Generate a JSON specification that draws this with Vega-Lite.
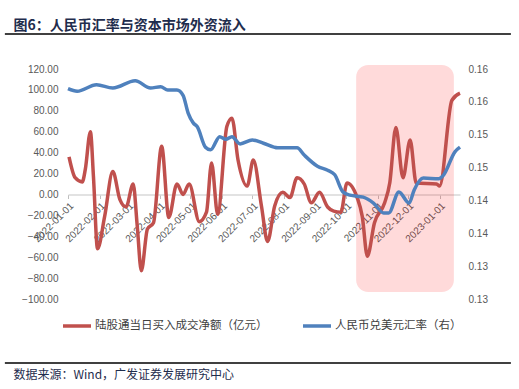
{
  "$schema": "https://vega.github.io/schema/vega-lite/v6.json",
  "width": 392,
  "height": 230,
  "autosize": {"type": "none"},
  "padding": {"left": 68, "top": 69, "right": 59, "bottom": 90},
  "background": "white",
  "config": {"view": {"stroke": null}, "font": "Liberation Sans", "axis": {"labelOverlap": false}},
  "datasets": {
    "series": [
      {"date": "2022-01-02", "series": "陆股通当日买入成交净额（亿元）", "value": 36},
      {"date": "2022-01-08", "series": "陆股通当日买入成交净额（亿元）", "value": 16},
      {"date": "2022-01-15", "series": "陆股通当日买入成交净额（亿元）", "value": 12},
      {"date": "2022-01-18", "series": "陆股通当日买入成交净额（亿元）", "value": 24},
      {"date": "2022-01-23", "series": "陆股通当日买入成交净额（亿元）", "value": 60},
      {"date": "2022-01-26", "series": "陆股通当日买入成交净额（亿元）", "value": 17},
      {"date": "2022-01-30", "series": "陆股通当日买入成交净额（亿元）", "value": -52},
      {"date": "2022-02-06", "series": "陆股通当日买入成交净额（亿元）", "value": -21},
      {"date": "2022-02-14", "series": "陆股通当日买入成交净额（亿元）", "value": 22},
      {"date": "2022-02-21", "series": "陆股通当日买入成交净额（亿元）", "value": -5},
      {"date": "2022-02-27", "series": "陆股通当日买入成交净额（亿元）", "value": -12},
      {"date": "2022-03-06", "series": "陆股通当日买入成交净额（亿元）", "value": 10},
      {"date": "2022-03-10", "series": "陆股通当日买入成交净额（亿元）", "value": -30},
      {"date": "2022-03-14", "series": "陆股通当日买入成交净额（亿元）", "value": -73},
      {"date": "2022-03-20", "series": "陆股通当日买入成交净额（亿元）", "value": -33},
      {"date": "2022-03-26", "series": "陆股通当日买入成交净额（亿元）", "value": -27},
      {"date": "2022-04-03", "series": "陆股通当日买入成交净额（亿元）", "value": 46},
      {"date": "2022-04-10", "series": "陆股通当日买入成交净额（亿元）", "value": -22},
      {"date": "2022-04-18", "series": "陆股通当日买入成交净额（亿元）", "value": 10},
      {"date": "2022-04-24", "series": "陆股通当日买入成交净额（亿元）", "value": 0},
      {"date": "2022-04-30", "series": "陆股通当日买入成交净额（亿元）", "value": 10},
      {"date": "2022-05-10", "series": "陆股通当日买入成交净额（亿元）", "value": -26},
      {"date": "2022-05-17", "series": "陆股通当日买入成交净额（亿元）", "value": -17},
      {"date": "2022-05-22", "series": "陆股通当日买入成交净额（亿元）", "value": 30},
      {"date": "2022-05-28", "series": "陆股通当日买入成交净额（亿元）", "value": -19},
      {"date": "2022-06-06", "series": "陆股通当日买入成交净额（亿元）", "value": 65},
      {"date": "2022-06-11", "series": "陆股通当日买入成交净额（亿元）", "value": 73},
      {"date": "2022-06-17", "series": "陆股通当日买入成交净额（亿元）", "value": 33},
      {"date": "2022-06-26", "series": "陆股通当日买入成交净额（亿元）", "value": 8},
      {"date": "2022-07-02", "series": "陆股通当日买入成交净额（亿元）", "value": 33},
      {"date": "2022-07-10", "series": "陆股通当日买入成交净额（亿元）", "value": -11},
      {"date": "2022-07-16", "series": "陆股通当日买入成交净额（亿元）", "value": -45},
      {"date": "2022-07-23", "series": "陆股通当日买入成交净额（亿元）", "value": -11},
      {"date": "2022-07-31", "series": "陆股通当日买入成交净额（亿元）", "value": 2},
      {"date": "2022-08-07", "series": "陆股通当日买入成交净额（亿元）", "value": -3},
      {"date": "2022-08-14", "series": "陆股通当日买入成交净额（亿元）", "value": 16},
      {"date": "2022-08-21", "series": "陆股通当日买入成交净额（亿元）", "value": 10},
      {"date": "2022-08-28", "series": "陆股通当日买入成交净额（亿元）", "value": -8},
      {"date": "2022-09-05", "series": "陆股通当日买入成交净额（亿元）", "value": 2},
      {"date": "2022-09-13", "series": "陆股通当日买入成交净额（亿元）", "value": -12},
      {"date": "2022-09-19", "series": "陆股通当日买入成交净额（亿元）", "value": -16},
      {"date": "2022-09-26", "series": "陆股通当日买入成交净额（亿元）", "value": -17},
      {"date": "2022-10-02", "series": "陆股通当日买入成交净额（亿元）", "value": 11},
      {"date": "2022-10-12", "series": "陆股通当日买入成交净额（亿元）", "value": -3},
      {"date": "2022-10-17", "series": "陆股通当日买入成交净额（亿元）", "value": -21},
      {"date": "2022-10-22", "series": "陆股通当日买入成交净额（亿元）", "value": -59},
      {"date": "2022-10-29", "series": "陆股通当日买入成交净额（亿元）", "value": -27},
      {"date": "2022-11-08", "series": "陆股通当日买入成交净额（亿元）", "value": -8},
      {"date": "2022-11-13", "series": "陆股通当日买入成交净额（亿元）", "value": 11},
      {"date": "2022-11-19", "series": "陆股通当日买入成交净额（亿元）", "value": 64},
      {"date": "2022-11-26", "series": "陆股通当日买入成交净额（亿元）", "value": 16},
      {"date": "2022-12-03", "series": "陆股通当日买入成交净额（亿元）", "value": 52},
      {"date": "2022-12-09", "series": "陆股通当日买入成交净额（亿元）", "value": 11},
      {"date": "2022-12-29", "series": "陆股通当日买入成交净额（亿元）", "value": 10},
      {"date": "2023-01-01", "series": "陆股通当日买入成交净额（亿元）", "value": 8},
      {"date": "2023-01-13", "series": "陆股通当日买入成交净额（亿元）", "value": 90},
      {"date": "2023-01-21", "series": "陆股通当日买入成交净额（亿元）", "value": 97},
      {"date": "2022-01-01", "series": "人民币兑美元汇率（右）", "value": 0.1570},
      {"date": "2022-01-10", "series": "人民币兑美元汇率（右）", "value": 0.1566},
      {"date": "2022-01-29", "series": "人民币兑美元汇率（右）", "value": 0.1576},
      {"date": "2022-02-14", "series": "人民币兑美元汇率（右）", "value": 0.1571},
      {"date": "2022-03-08", "series": "人民币兑美元汇率（右）", "value": 0.1582},
      {"date": "2022-03-23", "series": "人民币兑美元汇率（右）", "value": 0.1571},
      {"date": "2022-04-02", "series": "人民币兑美元汇率（右）", "value": 0.1573},
      {"date": "2022-04-09", "series": "人民币兑美元汇率（右）", "value": 0.1568},
      {"date": "2022-04-18", "series": "人民币兑美元汇率（右）", "value": 0.1568},
      {"date": "2022-04-24", "series": "人民币兑美元汇率（右）", "value": 0.1560},
      {"date": "2022-04-29", "series": "人民币兑美元汇率（右）", "value": 0.1533},
      {"date": "2022-05-04", "series": "人民币兑美元汇率（右）", "value": 0.1518},
      {"date": "2022-05-08", "series": "人民币兑美元汇率（右）", "value": 0.1512},
      {"date": "2022-05-16", "series": "人民币兑美元汇率（右）", "value": 0.1481},
      {"date": "2022-05-21", "series": "人民币兑美元汇率（右）", "value": 0.1477},
      {"date": "2022-05-30", "series": "人民币兑美元汇率（右）", "value": 0.1497},
      {"date": "2022-06-05", "series": "人民币兑美元汇率（右）", "value": 0.1493},
      {"date": "2022-06-11", "series": "人民币兑美元汇率（右）", "value": 0.1497},
      {"date": "2022-06-19", "series": "人民币兑美元汇率（右）", "value": 0.1486},
      {"date": "2022-07-01", "series": "人民币兑美元汇率（右）", "value": 0.1492},
      {"date": "2022-07-12", "series": "人民币兑美元汇率（右）", "value": 0.1487},
      {"date": "2022-07-26", "series": "人民币兑美元汇率（右）", "value": 0.1480},
      {"date": "2022-08-14", "series": "人民币兑美元汇率（右）", "value": 0.1480},
      {"date": "2022-08-21", "series": "人民币兑美元汇率（右）", "value": 0.1469},
      {"date": "2022-09-03", "series": "人民币兑美元汇率（右）", "value": 0.1452},
      {"date": "2022-09-13", "series": "人民币兑美元汇率（右）", "value": 0.1446},
      {"date": "2022-09-20", "series": "人民币兑美元汇率（右）", "value": 0.1439},
      {"date": "2022-09-28", "series": "人民币兑美元汇率（右）", "value": 0.1413},
      {"date": "2022-10-05", "series": "人民币兑美元汇率（右）", "value": 0.1408},
      {"date": "2022-10-18", "series": "人民币兑美元汇率（右）", "value": 0.1405},
      {"date": "2022-10-28", "series": "人民币兑美元汇率（右）", "value": 0.1396},
      {"date": "2022-11-07", "series": "人民币兑美元汇率（右）", "value": 0.1381},
      {"date": "2022-11-12", "series": "人民币兑美元汇率（右）", "value": 0.1381},
      {"date": "2022-11-22", "series": "人民币兑美元汇率（右）", "value": 0.1413},
      {"date": "2022-12-02", "series": "人民币兑美元汇率（右）", "value": 0.1396},
      {"date": "2022-12-07", "series": "人民币兑美元汇率（右）", "value": 0.1416},
      {"date": "2022-12-16", "series": "人民币兑美元汇率（右）", "value": 0.1434},
      {"date": "2022-12-31", "series": "人民币兑美元汇率（右）", "value": 0.1433},
      {"date": "2023-01-05", "series": "人民币兑美元汇率（右）", "value": 0.1439},
      {"date": "2023-01-16", "series": "人民币兑美元汇率（右）", "value": 0.1474},
      {"date": "2023-01-21", "series": "人民币兑美元汇率（右）", "value": 0.1481}
    ]
  },
  "layer": [
    {
      "layer": [
        {
          "data": {"values": [{}]},
          "mark": {"type": "rect", "cornerRadius": 12, "fill": "#ff0000", "fillOpacity": 0.145},
          "encoding": {
            "x": {"datum": {"year": 2022, "month": 10, "date": 11, "utc": true}, "type": "temporal"},
            "x2": {"datum": {"year": 2023, "month": 1, "date": 15, "utc": true}},
            "y": {"datum": 123.8, "type": "quantitative", "scale": {"domain": [-100, 120], "nice": false, "zero": false}},
            "y2": {"datum": -93.3}
          }
        },
        {
          "data": {"values": [{}]},
          "mark": {"type": "rule", "color": "#000000", "strokeWidth": 1.5},
          "encoding": {
            "x": {"datum": {"year": 2021, "month": 10, "date": 31, "utc": true}, "type": "temporal"},
            "x2": {"datum": {"year": 2023, "month": 3, "date": 12, "utc": true}},
            "y": {"datum": 153.5, "type": "quantitative", "scale": {"domain": [-100, 120], "nice": false, "zero": false}}
          }
        },
        {
          "data": {"values": [{}]},
          "mark": {"type": "rule", "color": "#000000", "strokeWidth": 1.5},
          "encoding": {
            "x": {"datum": {"year": 2021, "month": 10, "date": 31, "utc": true}, "type": "temporal"},
            "x2": {"datum": {"year": 2023, "month": 3, "date": 12, "utc": true}},
            "y": {"datum": -161.2, "type": "quantitative", "scale": {"domain": [-100, 120], "nice": false, "zero": false}}
          }
        },
        {
          "data": {"name": "series"},
          "transform": [{"filter": "datum.series === '陆股通当日买入成交净额（亿元）'"}],
          "mark": {"type": "line", "interpolate": "monotone", "strokeWidth": 3.5},
          "encoding": {
            "x": {
              "field": "date", "type": "temporal",
              "scale": {"type": "utc", "domain": [{"year": 2022, "month": 1, "date": 1, "utc": true}, {"year": 2023, "month": 1, "date": 21, "utc": true}]},
              "axis": {
                "orient": "bottom", "offset": -104.5,
                "values": [
                  {"year": 2022, "month": 1, "date": 1, "utc": true},
                  {"year": 2022, "month": 2, "date": 1, "utc": true},
                  {"year": 2022, "month": 3, "date": 1, "utc": true},
                  {"year": 2022, "month": 4, "date": 1, "utc": true},
                  {"year": 2022, "month": 5, "date": 1, "utc": true},
                  {"year": 2022, "month": 6, "date": 1, "utc": true},
                  {"year": 2022, "month": 7, "date": 1, "utc": true},
                  {"year": 2022, "month": 8, "date": 1, "utc": true},
                  {"year": 2022, "month": 9, "date": 1, "utc": true},
                  {"year": 2022, "month": 10, "date": 1, "utc": true},
                  {"year": 2022, "month": 11, "date": 1, "utc": true},
                  {"year": 2022, "month": 12, "date": 1, "utc": true},
                  {"year": 2023, "month": 1, "date": 1, "utc": true}
                ],
                "tickCount": 100,
                "labelExpr": "utcFormat(datum.value, '%Y-%m-%d')",
                "labelOverlap": false,
                "labelAngle": -45, "labelFontSize": 10, "labelColor": "#595959", "labelPadding": 2,
                "domainColor": "#d9d9d9", "domainWidth": 1.5, "tickColor": "#bfbfbf", "tickSize": 4, "grid": false,
                "title": "数据来源：Wind，广发证券发展研究中心",
                "titleX": -55, "titleY": 183.5, "titleAngle": 0, "titleAlign": "left", "titleBaseline": "alphabetic",
                "titleFont": "Noto Sans CJK SC", "titleFontSize": 12, "titleFontWeight": "normal", "titleColor": "#1F2D4D"
              }
            },
            "y": {
              "field": "value", "type": "quantitative",
              "scale": {"domain": [-100, 120], "nice": false, "zero": false},
              "axis": {
                "orient": "left", "values": [-100, -80, -60, -40, -20, 0, 20, 40, 60, 80, 100, 120], "format": ".2f",
                "tickCount": 100,
                "labelOverlap": false,
                "labelFontSize": 10, "labelColor": "#595959", "labelPadding": 10,
                "domain": false, "ticks": false, "grid": false,
                "title": "图6：人民币汇率与资本市场外资流入",
                "titleX": -55, "titleY": -40, "titleAngle": 0, "titleAlign": "left", "titleBaseline": "alphabetic",
                "titleFont": "Noto Sans CJK SC", "titleFontSize": 14, "titleFontWeight": "bold", "titleColor": "#1F2D4D"
              }
            },
            "color": {
              "field": "series", "type": "nominal",
              "scale": {"domain": ["陆股通当日买入成交净额（亿元）", "人民币兑美元汇率（右）"], "range": ["#C0504D", "#4F81BD"]},
              "legend": {
                "orient": "none", "legendX": -7, "legendY": 241, "direction": "horizontal", "title": null,
                "symbolType": "stroke", "symbolSize": 784, "symbolStrokeWidth": 3.5,
                "labelFont": "Noto Sans CJK SC", "labelFontSize": 11.5, "labelColor": "#404040",
                "columnPadding": 28, "labelOffset": 2, "labelLimit": 300
              }
            }
          }
        }
      ]
    },
    {
      "data": {"name": "series"},
      "transform": [{"filter": "datum.series === '人民币兑美元汇率（右）'"}],
      "mark": {"type": "line", "interpolate": "monotone", "strokeWidth": 3.5},
      "encoding": {
        "x": {"field": "date", "type": "temporal"},
        "y": {
          "field": "value", "type": "quantitative",
          "scale": {"domain": [0.125, 0.16], "nice": false, "zero": false},
          "axis": {
            "orient": "right", "values": [0.125, 0.13, 0.135, 0.14, 0.145, 0.15, 0.155, 0.16],
            "tickCount": 100,
            "labelExpr": "format(round(datum.value*100+0.000001)/100, '.2f')",
            "labelOverlap": false,
            "labelFontSize": 10, "labelColor": "#595959", "labelPadding": 8,
            "domain": false, "ticks": false, "grid": false, "title": null
          }
        },
        "color": {"field": "series", "type": "nominal"}
      }
    }
  ],
  "resolve": {"scale": {"y": "independent"}}
}
